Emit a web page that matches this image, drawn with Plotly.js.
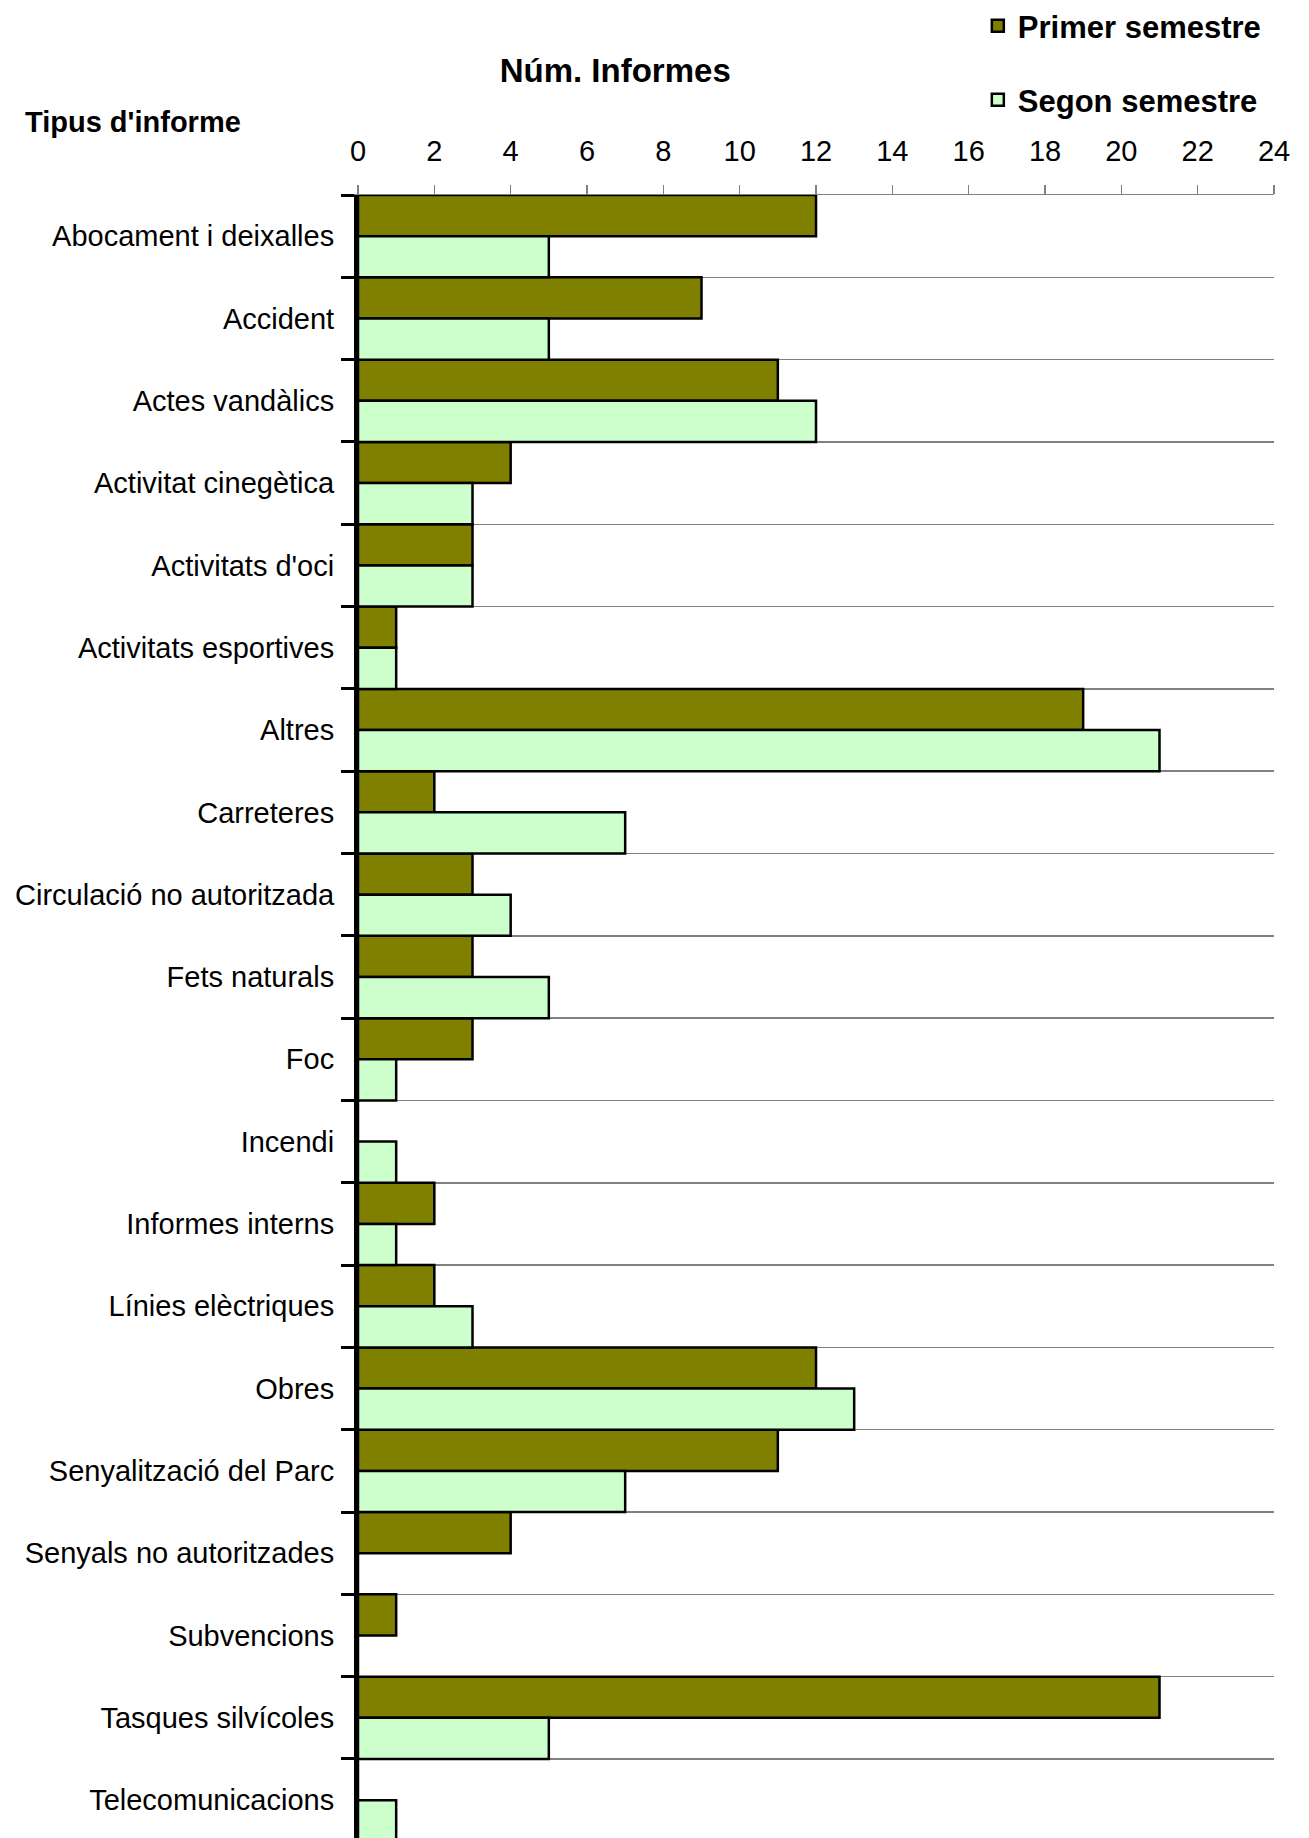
<!DOCTYPE html>
<html>
<head>
<meta charset="utf-8">
<script src="https://cdn.plot.ly/plotly-3.0.1.min.js"></script>
<style>html,body{margin:0;padding:0;background:#fff;}#chart{width:1309px;height:1838px;}</style>
</head>
<body>
<div id="chart"></div>
<script>
const categories = [
  "Abocament i deixalles",
  "Accident",
  "Actes vandàlics",
  "Activitat cinegètica",
  "Activitats d'oci",
  "Activitats esportives",
  "Altres",
  "Carreteres",
  "Circulació no autoritzada",
  "Fets naturals",
  "Foc",
  "Incendi",
  "Informes interns",
  "Línies elèctriques",
  "Obres",
  "Senyalització del Parc",
  "Senyals no autoritzades",
  "Subvencions",
  "Tasques silvícoles",
  "Telecomunicacions"
];
const primerSemestre = [12, 9, 11, 4, 3, 1, 19, 2, 3, 3, 3, 0, 2, 2, 12, 11, 4, 1, 21, 0];
const segonSemestre  = [5, 5, 12, 3, 3, 1, 21, 7, 4, 5, 1, 1, 1, 3, 13, 7, 0, 0, 5, 1];
const seriesNames = ["Primer semestre", "Segon semestre"];
const xTitle = "Núm. Informes";
const yTitle = "Tipus d'informe";

const FONT = "Liberation Sans, Arial, sans-serif";

const traces = [
  {
    type: "bar", orientation: "h", name: seriesNames[0],
    y: categories, x: primerSemestre,
    marker: {color: "#808000", line: {color: "#000000", width: 2.5}},
    legend: "legend", hoverinfo: "x+y"
  },
  {
    type: "bar", orientation: "h", name: seriesNames[1],
    y: categories, x: segonSemestre,
    marker: {color: "#CCFFCC", line: {color: "#000000", width: 2.5}},
    legend: "legend2", hoverinfo: "x+y"
  }
];

const legendFont = {family: FONT, size: 31, color: "#000", weight: "bold"};
const PW = 1309 - 358 - 35;
const PH = 1838 - 195;

const layout = {
  width: 1309, height: 1838,
  paper_bgcolor: "#ffffff", plot_bgcolor: "#ffffff",
  margin: {l: 358, r: 35, t: 195, b: 0, pad: 0, autoexpand: false},
  barmode: "group", bargap: 0, bargroupgap: 0,
  font: {family: FONT, size: 29, color: "#000"},
  title: {
    text: xTitle, xref: "container", yref: "container",
    x: 0.47, xanchor: "center", y: 1 - 70 / 1838, yanchor: "middle",
    font: {family: FONT, size: 33, color: "#000", weight: "bold"}
  },
  xaxis: {
    side: "top", range: [0, 24], dtick: 2, tick0: 0,
    showgrid: false, zeroline: false,
    showline: true, linecolor: "#808080", linewidth: 1.5,
    ticks: "outside", ticklen: 9, tickwidth: 1.5, tickcolor: "#808080",
    ticklabelstandoff: 12,
    tickfont: {family: FONT, size: 29, color: "#000"},
    fixedrange: true
  },
  yaxis: {
    type: "category", autorange: false, range: [19.46, -0.5],
    tickson: "boundaries",
    showgrid: true, gridcolor: "#808080", gridwidth: 1.5,
    showline: true, linecolor: "#000000", linewidth: 4,
    ticks: "outside", ticklen: 13, tickwidth: 3, tickcolor: "#000000",
    ticklabelstandoff: 14,
    tickfont: {family: FONT, size: 29, color: "#000"},
    zeroline: false, fixedrange: true
  },
  legend: {
    xref: "container", yref: "container",
    x: 0.747, xanchor: "left", y: 1 - 26 / 1838, yanchor: "middle",
    font: legendFont, bgcolor: "rgba(0,0,0,0)", borderwidth: 0
  },
  legend2: {
    xref: "container", yref: "container",
    x: 0.747, xanchor: "left", y: 1 - 100 / 1838, yanchor: "middle",
    font: legendFont, bgcolor: "rgba(0,0,0,0)", borderwidth: 0
  },
  annotations: [
    {
      text: yTitle, xref: "paper", yref: "paper",
      x: (23 - 358) / PW, xanchor: "left",
      y: 1 + (195 - 122) / PH, yanchor: "middle",
      showarrow: false,
      font: {family: FONT, size: 29, color: "#000", weight: "bold"}
    }
  ],
  showlegend: true
};

Plotly.newPlot("chart", traces, layout, {displayModeBar: false, staticPlot: true});
</script>
</body>
</html>
